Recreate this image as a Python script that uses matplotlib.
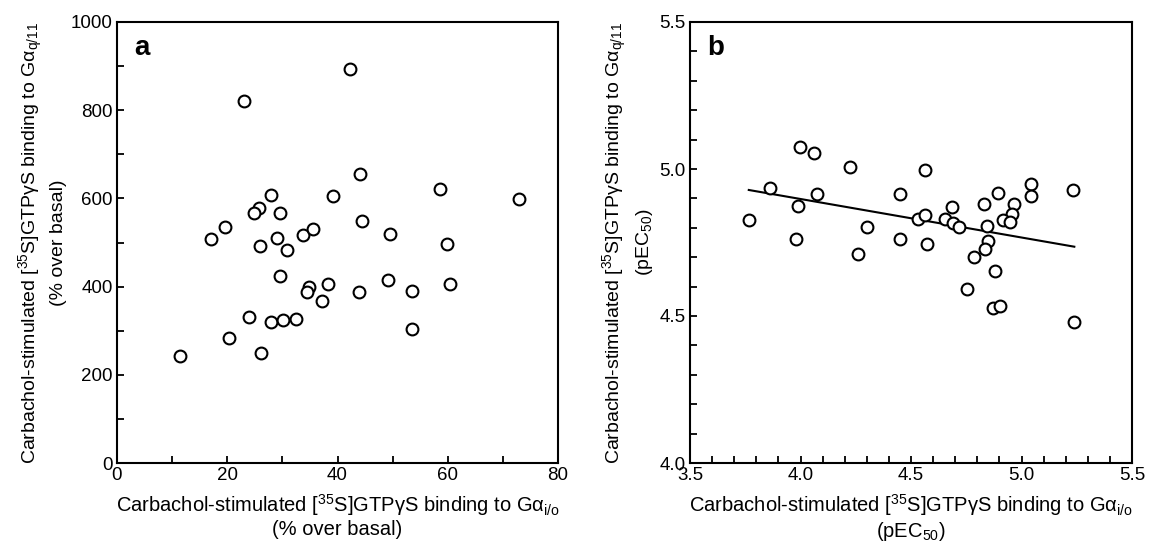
#! /usr/bin/env python3

import matplotlib
matplotlib.use('Agg')
import matplotlib.pyplot as plt
import numpy as np
from matplotlib.ticker import MultipleLocator, FormatStrFormatter

plt.rcParams['font.family'] = ['Liberation Sans', 'DejaVu Sans']
plt.rcParams['mathtext.fontset'] = 'custom'
plt.rcParams['mathtext.rm'] = 'Liberation Sans'
plt.rcParams['mathtext.it'] = 'Liberation Sans'
plt.rcParams['mathtext.bf'] = 'Liberation Sans:bold'
plt.rcParams['mathtext.default'] = 'regular'

# panel a: % over basal (Gi/o vs Gq/11)
a_gio = [42.2, 23.0, 44.1, 58.6, 27.9, 39.2, 25.8, 24.8, 29.6, 19.6,
         44.4, 17.0, 29.0, 33.8, 35.6, 49.5, 59.9, 26.0, 30.8, 29.6,
         34.9, 34.5, 38.3, 37.1, 43.9, 49.2, 53.5, 60.4, 53.5, 23.9,
         28.0, 30.2, 32.4, 20.3, 26.2, 11.5, 72.9]
a_gq = [893, 821, 655, 621, 608, 605, 578, 566, 568, 535,
        549, 507, 511, 517, 531, 520, 497, 493, 483, 425,
        398, 388, 407, 367, 387, 415, 389, 406, 303, 332,
        320, 324, 327, 283, 250, 243, 599]

# panel b: pEC50
b_gio = [3.766, 3.863, 3.999, 4.060, 3.990, 4.076, 4.223, 3.980, 4.301, 4.449,
         4.563, 4.449, 4.571, 4.530, 4.562, 4.654, 4.686, 4.259, 4.690, 4.716,
         4.830, 4.895, 4.844, 4.850, 4.836, 4.785, 4.880, 4.755, 4.873, 4.904,
         5.239, 4.965, 4.959, 4.918, 4.948, 5.042, 5.044, 5.235]
b_gq = [4.826, 4.934, 5.076, 5.054, 4.875, 4.916, 5.008, 4.762, 4.804, 4.916,
        4.997, 4.763, 4.745, 4.829, 4.843, 4.829, 4.872, 4.710, 4.817, 4.804,
        4.880, 4.918, 4.807, 4.756, 4.728, 4.701, 4.653, 4.592, 4.527, 4.533,
        4.479, 4.880, 4.847, 4.827, 4.819, 4.950, 4.909, 4.929]
# regression line
fit_slope = -0.131
fit_intercept = 5.422

ylab_a = 'Carbachol-stimulated [$^{35}$S]GTP$\\gamma$S binding to G$\\alpha_{q/11}$\n(% over basal)'
xlab_a = 'Carbachol-stimulated [$^{35}$S]GTP$\\gamma$S binding to G$\\alpha_{i/o}$\n(% over basal)'
ylab_b = 'Carbachol-stimulated [$^{35}$S]GTP$\\gamma$S binding to G$\\alpha_{q/11}$\n(pEC$_{50}$)'
xlab_b = 'Carbachol-stimulated [$^{35}$S]GTP$\\gamma$S binding to G$\\alpha_{i/o}$\n(pEC$_{50}$)'

XLAB_FS = 14.5
YLAB_FS = 14


def Style(ax):
    for sp in ax.spines.values():
        sp.set_linewidth(1.5)
    ax.tick_params(which='both', direction='in', width=1.3, length=5,
                   labelsize=13.5, pad=3)


def Scatter(ax, x, y):
    ax.plot(x, y, 'o', ms=8.5, mfc='white', mec='black', mew=1.5,
            linestyle='none', clip_on=False, zorder=3)


def Labels(ax, xlab, ylab, letter):
    ax.set_xlabel(xlab, fontsize=XLAB_FS, linespacing=1.1, labelpad=6)
    ax.set_ylabel(ylab, fontsize=YLAB_FS, linespacing=1.35, labelpad=3)
    ax.text(0.04, 0.97, letter, transform=ax.transAxes, fontsize=20,
            fontweight='bold', va='top', ha='left')


def Run():
    fig = plt.figure(figsize=(11.5, 5.5), dpi=100)
    axa = fig.add_axes([117/1150, 87/550, 441/1150, 441/550])
    axb = fig.add_axes([690/1150, 87/550, 442/1150, 441/550])

    Scatter(axa, a_gio, a_gq)
    axa.set_xlim(0, 80)
    axa.set_ylim(0, 1000)
    axa.xaxis.set_major_locator(MultipleLocator(20))
    axa.xaxis.set_minor_locator(MultipleLocator(10))
    axa.yaxis.set_major_locator(MultipleLocator(200))
    axa.yaxis.set_minor_locator(MultipleLocator(100))
    Style(axa)
    Labels(axa, xlab_a, ylab_a, 'a')

    Scatter(axb, b_gio, b_gq)
    xs = np.array([min(b_gio), max(b_gio)])
    axb.plot(xs, fit_intercept + fit_slope*xs, color='black', lw=1.5, zorder=2)
    axb.set_xlim(3.5, 5.5)
    axb.set_ylim(4.0, 5.5)
    axb.xaxis.set_major_locator(MultipleLocator(0.5))
    axb.xaxis.set_minor_locator(MultipleLocator(0.1))
    axb.yaxis.set_major_locator(MultipleLocator(0.5))
    axb.yaxis.set_minor_locator(MultipleLocator(0.1))
    axb.xaxis.set_major_formatter(FormatStrFormatter('%.1f'))
    axb.yaxis.set_major_formatter(FormatStrFormatter('%.1f'))
    Style(axb)
    Labels(axb, xlab_b, ylab_b, 'b')

    fig.savefig('out.png', dpi=100)


if __name__ == "__main__":
    Run()
